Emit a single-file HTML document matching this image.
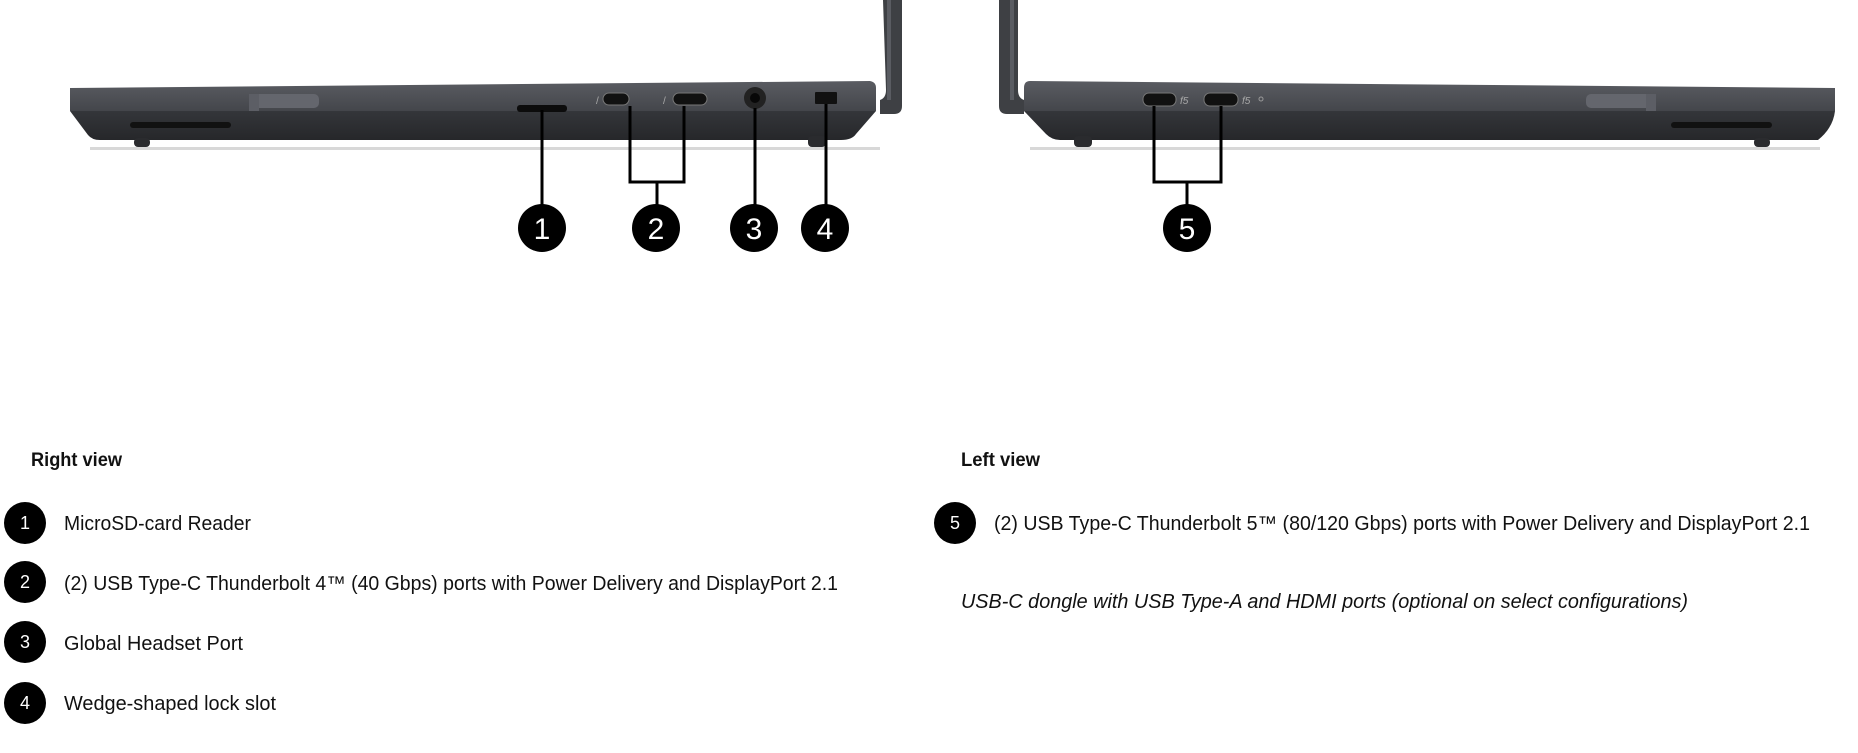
<!DOCTYPE html>
<html><head><meta charset="utf-8"><style>
html,body{margin:0;padding:0;background:#fff;width:1858px;height:753px;overflow:hidden}
svg{display:block}
text{font-family:"Liberation Sans",sans-serif;fill:#111}
</style></head><body>
<svg width="1858" height="753" viewBox="0 0 1858 753" xmlns="http://www.w3.org/2000/svg">
<defs>
<linearGradient id="top" x1="0" y1="0" x2="0" y2="1"><stop offset="0" stop-color="#5a5c62"/><stop offset="1" stop-color="#44464b"/></linearGradient>
<linearGradient id="bot" x1="0" y1="0" x2="0" y2="1"><stop offset="0" stop-color="#34363a"/><stop offset="1" stop-color="#26272a"/></linearGradient>
</defs>
<rect x="90" y="147" width="790" height="3" fill="#d8d8d8"/>
<rect x="1030" y="147" width="790" height="3" fill="#d8d8d8"/>
<!-- LEFT laptop (right view) -->
<path d="M883 0 L902 0 L902 106 Q902 114 894 114 L880 114 L880 100 Q886 98 886 90 Z" fill="#3e4044"/>
<rect x="887" y="0" width="4" height="100" fill="#5a5c62"/>
<path d="M70 88 L870 81 Q876 82 876 88 L876 111 L70 111 Z" fill="url(#top)"/>
<path d="M70 111 L876 111 L856 134 Q852 140 841 140 L100 140 Q92 140 88 135 Z" fill="url(#bot)"/>
<rect x="249" y="94" width="70" height="14" rx="5" fill="#64666d"/>
<rect x="249" y="94" width="10" height="17" fill="#5c5e65"/>
<rect x="130" y="122" width="101" height="6" rx="3" fill="#111"/>
<rect x="134" y="138" width="16" height="9" rx="4" fill="#2a2b2e"/>
<rect x="808" y="136" width="18" height="11" rx="4" fill="#2a2b2e"/>
<rect x="517" y="105" width="50" height="7" rx="3" fill="#0c0c0c"/>
<rect x="603" y="93" width="26" height="12" rx="6" fill="#111" stroke="#777" stroke-width="1"/>
<rect x="673" y="93" width="34" height="12" rx="6" fill="#111" stroke="#777" stroke-width="1"/>
<text x="596" y="104" font-size="10" style="fill:#aaa">/</text>
<text x="663" y="104" font-size="10" style="fill:#aaa">/</text>
<circle cx="755" cy="98" r="11" fill="#222"/><circle cx="755" cy="98" r="5" fill="#080808"/>
<rect x="815" y="92" width="22" height="12" rx="1" fill="#111"/>
<!-- RIGHT laptop (left view) -->
<path d="M999 0 L1018 0 L1018 90 Q1018 98 1024 100 L1024 114 L1007 114 Q999 114 999 106 Z" fill="#3e4044"/>
<rect x="1010" y="0" width="4" height="100" fill="#5a5c62"/>
<path d="M1030 81 L1835 88 L1835 111 L1024 111 L1024 88 Q1024 81 1030 81 Z" fill="url(#top)"/>
<path d="M1024 111 L1835 111 Q1833 128 1818 140 L1060 140 Q1052 140 1046 134 Z" fill="url(#bot)"/>
<rect x="1586" y="94" width="70" height="14" rx="5" fill="#64666d"/>
<rect x="1646" y="94" width="10" height="17" fill="#5c5e65"/>
<rect x="1671" y="122" width="101" height="6" rx="3" fill="#111"/>
<rect x="1074" y="136" width="18" height="11" rx="4" fill="#2a2b2e"/>
<rect x="1754" y="138" width="16" height="9" rx="4" fill="#2a2b2e"/>
<rect x="1143" y="93" width="33" height="13" rx="6" fill="#111" stroke="#777" stroke-width="1"/>
<rect x="1204" y="93" width="34" height="13" rx="6" fill="#111" stroke="#777" stroke-width="1"/>
<text x="1180" y="104" font-size="10" font-style="italic" style="fill:#aaa">f5</text>
<text x="1242" y="104" font-size="10" font-style="italic" style="fill:#aaa">f5</text>
<circle cx="1261" cy="99" r="2" fill="none" stroke="#999"/>
<g stroke="#000" stroke-width="3" fill="none">
<line x1="542" y1="110" x2="542" y2="210"/>
<polyline points="630,106 630,182 684,182 684,106"/>
<line x1="657" y1="182" x2="657" y2="210"/>
<line x1="755" y1="108" x2="755" y2="210"/>
<line x1="826" y1="104" x2="826" y2="210"/>
<polyline points="1154,106 1154,182 1221,182 1221,106"/>
<line x1="1187" y1="182" x2="1187" y2="210"/>
</g>
<g fill="#000">
<circle cx="542" cy="228" r="24"/><circle cx="656" cy="228" r="24"/><circle cx="754" cy="228" r="24"/><circle cx="825" cy="228" r="24"/><circle cx="1187" cy="228" r="24"/>
</g>
<g font-size="30" text-anchor="middle">
<text x="542" y="239" style="fill:#fff">1</text><text x="656" y="239" style="fill:#fff">2</text><text x="754" y="239" style="fill:#fff">3</text><text x="825" y="239" style="fill:#fff">4</text><text x="1187" y="239" style="fill:#fff">5</text>
</g>
<text x="31" y="466" font-size="19" font-weight="bold" textLength="91" lengthAdjust="spacingAndGlyphs">Right view</text>
<text x="961" y="466" font-size="19" font-weight="bold" textLength="79" lengthAdjust="spacingAndGlyphs">Left view</text>
<g fill="#000"><circle cx="25" cy="523" r="21"/><circle cx="25" cy="582" r="21"/><circle cx="25" cy="642" r="21"/><circle cx="25" cy="703" r="21"/><circle cx="955" cy="523" r="21"/></g>
<g font-size="18" text-anchor="middle">
<text x="25" y="529" style="fill:#fff">1</text><text x="25" y="588" style="fill:#fff">2</text><text x="25" y="648" style="fill:#fff">3</text><text x="25" y="709" style="fill:#fff">4</text><text x="955" y="529" style="fill:#fff">5</text>
</g>
<g font-size="20">
<text x="64" y="530" textLength="187" lengthAdjust="spacingAndGlyphs">MicroSD-card Reader</text>
<text x="64" y="590" textLength="774" lengthAdjust="spacingAndGlyphs">(2) USB Type-C Thunderbolt 4™ (40 Gbps) ports with Power Delivery and DisplayPort 2.1</text>
<text x="64" y="650" textLength="179" lengthAdjust="spacingAndGlyphs">Global Headset Port</text>
<text x="64" y="710" textLength="212" lengthAdjust="spacingAndGlyphs">Wedge-shaped lock slot</text>
<text x="994" y="530" textLength="816" lengthAdjust="spacingAndGlyphs">(2) USB Type-C Thunderbolt 5™ (80/120 Gbps) ports with Power Delivery and DisplayPort 2.1</text>
<text x="961" y="608" font-style="italic" textLength="727" lengthAdjust="spacingAndGlyphs">USB-C dongle with USB Type-A and HDMI ports (optional on select configurations)</text>
</g>
</svg>
</body></html>
